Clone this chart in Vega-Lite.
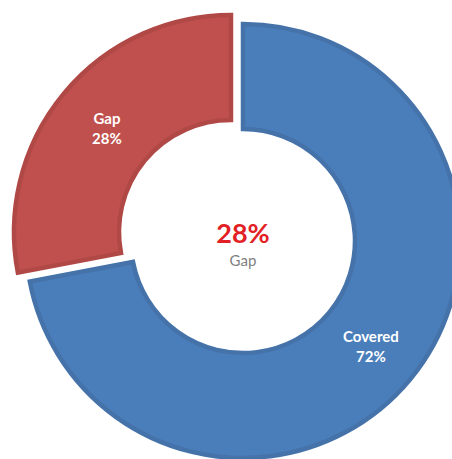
{
  "$schema": "https://vega.github.io/schema/vega-lite/v6.json",
  "width": 486,
  "height": 482,
  "autosize": {"type": "none"},
  "padding": 0,
  "background": "white",
  "config": {"view": {"stroke": null}},
  "data": {"values": [
    {"category": "Covered", "value": 72, "pct": "72%"},
    {"category": "Gap", "value": 28, "pct": "28%"}
  ]},
  "layer": [
    {
      "mark": {"type": "arc", "outerRadius": 217, "innerRadius": 112, "strokeWidth": 4.5},
      "encoding": {
        "theta": {"field": "value", "type": "quantitative", "stack": true},
        "order": {"field": "category", "type": "ordinal", "sort": "ascending"},
        "color": {"field": "category", "type": "nominal", "scale": {"domain": ["Covered", "Gap"], "range": ["#4a7ebb", "#c0504d"]}, "legend": null},
        "stroke": {"field": "category", "type": "nominal", "scale": {"domain": ["Covered", "Gap"], "range": ["#4472a9", "#b04946"]}, "legend": null},
        "opacity": {"condition": {"test": "datum.category === 'Covered'", "value": 1}, "value": 0}
      }
    },
    {
      "mark": {"type": "arc", "outerRadius": 217, "innerRadius": 112, "strokeWidth": 4.5, "xOffset": -12, "yOffset": -9},
      "encoding": {
        "theta": {"field": "value", "type": "quantitative", "stack": true},
        "order": {"field": "category", "type": "ordinal", "sort": "ascending"},
        "color": {"field": "category", "type": "nominal", "scale": {"domain": ["Covered", "Gap"], "range": ["#4a7ebb", "#c0504d"]}, "legend": null},
        "stroke": {"field": "category", "type": "nominal", "scale": {"domain": ["Covered", "Gap"], "range": ["#4472a9", "#b04946"]}, "legend": null},
        "opacity": {"condition": {"test": "datum.category === 'Gap'", "value": 1}, "value": 0}
      }
    },
    {
      "mark": {"type": "text", "radius": 166, "dy": -10, "font": "Lato", "fontWeight": "bold", "fontSize": 15, "color": "white"},
      "encoding": {
        "theta": {"field": "value", "type": "quantitative", "stack": true},
        "order": {"field": "category", "type": "ordinal", "sort": "ascending"},
        "text": {"field": "category", "type": "nominal"},
        "opacity": {"condition": {"test": "datum.category === 'Covered'", "value": 1}, "value": 0}
      }
    },
    {
      "mark": {"type": "text", "radius": 166, "dy": 10, "font": "Lato", "fontWeight": "bold", "fontSize": 15, "color": "white"},
      "encoding": {
        "theta": {"field": "value", "type": "quantitative", "stack": true},
        "order": {"field": "category", "type": "ordinal", "sort": "ascending"},
        "text": {"field": "pct", "type": "nominal"},
        "opacity": {"condition": {"test": "datum.category === 'Covered'", "value": 1}, "value": 0}
      }
    },
    {
      "mark": {"type": "text", "radius": 161, "dy": -10, "xOffset": -12, "yOffset": -9, "font": "Lato", "fontWeight": "bold", "fontSize": 15, "color": "white"},
      "encoding": {
        "theta": {"field": "value", "type": "quantitative", "stack": true},
        "order": {"field": "category", "type": "ordinal", "sort": "ascending"},
        "text": {"field": "category", "type": "nominal"},
        "opacity": {"condition": {"test": "datum.category === 'Gap'", "value": 1}, "value": 0}
      }
    },
    {
      "mark": {"type": "text", "radius": 161, "dy": 10, "xOffset": -12, "yOffset": -9, "font": "Lato", "fontWeight": "bold", "fontSize": 15, "color": "white"},
      "encoding": {
        "theta": {"field": "value", "type": "quantitative", "stack": true},
        "order": {"field": "category", "type": "ordinal", "sort": "ascending"},
        "text": {"field": "pct", "type": "nominal"},
        "opacity": {"condition": {"test": "datum.category === 'Gap'", "value": 1}, "value": 0}
      }
    },
    {
      "transform": [{"filter": "datum.category === 'Gap'"}],
      "mark": {"type": "text", "dy": -6, "font": "Lato", "fontWeight": "bold", "fontSize": 27, "color": "#e31f26"},
      "encoding": {"text": {"field": "pct", "type": "nominal"}}
    },
    {
      "transform": [{"filter": "datum.category === 'Gap'"}],
      "mark": {"type": "text", "dy": 20, "font": "Lato", "fontSize": 15, "color": "#7f7f7f"},
      "encoding": {"text": {"field": "category", "type": "nominal"}}
    }
  ]
}
